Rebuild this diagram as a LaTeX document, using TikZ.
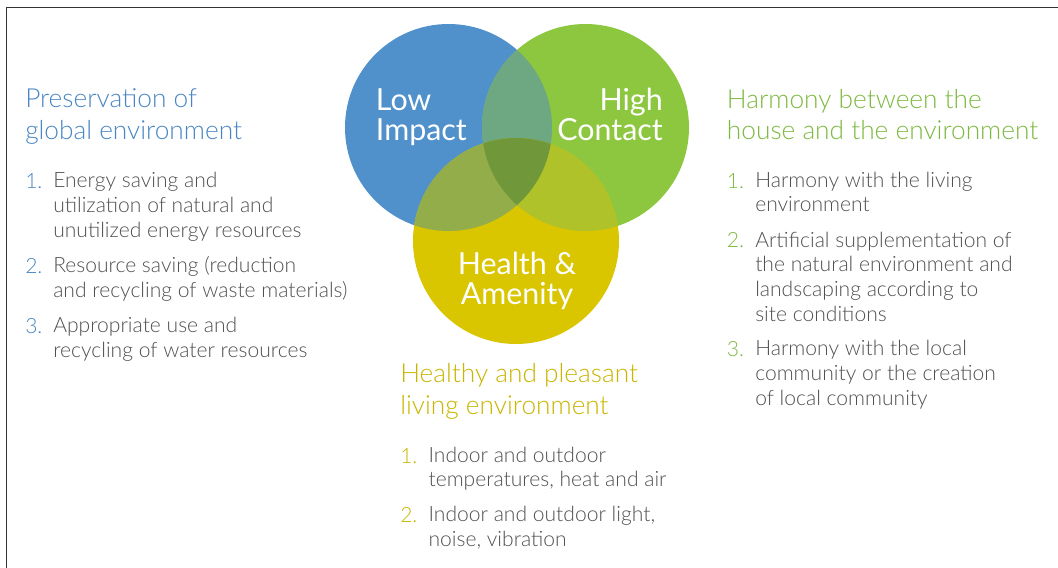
\documentclass[tikz,border=0pt]{standalone}
\usepackage{fontspec}
\setmainfont{Lato}[UprightFont=* Light, BoldFont=*]
\newfontfamily\labelfont{Lato}

\definecolor{lowblue}{HTML}{5090CB}
\definecolor{highgreen}{HTML}{8DC63F}
\definecolor{amenyellow}{HTML}{D9C500}
\definecolor{bgmix}{HTML}{6EA882}
\definecolor{bymix}{HTML}{92AD4A}
\definecolor{gymix}{HTML}{B0C22A}
\definecolor{allmix}{HTML}{70983A}
\definecolor{bluetext}{HTML}{4A86C4}
\definecolor{greentext}{HTML}{7DB940}
\definecolor{yellowtext}{HTML}{C9B500}
\definecolor{bodygray}{HTML}{505050}
\definecolor{framegray}{HTML}{333333}

\begin{document}
\begin{tikzpicture}[
    x=0.75pt, y=-0.75pt,
    heading/.style={anchor=base west, inner sep=0, align=left, font=\fontsize{19.7}{23.3}\selectfont},
    num/.style={anchor=base west, inner sep=0, font=\fontsize{15.8}{18.4}\selectfont},
    itemtxt/.style={anchor=base west, inner sep=0, align=left, text=bodygray, font=\fontsize{15.8}{18.4}\selectfont},
    circlabel/.style={inner sep=0, text=white, font=\labelfont\fontsize{22.8}{22}\selectfont}
]
\useasboundingbox (0,0) rectangle (1058,568);

% Frame
\draw[framegray, line width=1pt] (6.5,568) -- (6.5,7.5) -- (1058,7.5);

% Circles
\fill[lowblue] (448.5,127.5) circle (103.5);
\fill[highgreen] (585.5,127.5) circle (103.5);
\fill[amenyellow] (516,241) circle (103);

% Overlaps
\begin{scope}
  \clip (448.5,127.5) circle (103.5);
  \fill[bgmix] (585.5,127.5) circle (103.5);
  \fill[bymix] (516,241) circle (103);
  \clip (585.5,127.5) circle (103.5);
  \fill[allmix] (516,241) circle (103);
\end{scope}
\begin{scope}
  \clip (585.5,127.5) circle (103.5);
  \clip (516,241) circle (103);
  \fill[gymix] (-100,-100) rectangle (1200,700);
  \clip (448.5,127.5) circle (103.5);
  \fill[allmix] (-100,-100) rectangle (1200,700);
\end{scope}

% Circle labels (placed at the baseline of their last line)
\node[circlabel, anchor=base west, align=left] (low) at (375.7,140) {Low\\Impact};
\node[circlabel, anchor=base east, align=right] (high) at (663,140) {High\\Contact};
\node[circlabel, anchor=base, align=center] (health) at (517,304) {Health \&\\Amenity};

% Preservation of global environment
\node[heading, text=bluetext] (preshead) at (25,139) {Preservation of\\global environment};
\node[num, text=bluetext] (pres1n) at (25,188) {1.};
\node[itemtxt] (pres1) at (53,237) {Energy saving and\\utilization of natural and\\unutilized energy resources};
\node[num, text=bluetext] (pres2n) at (25,273) {2.};
\node[itemtxt] (pres2) at (53,297) {Resource saving (reduction\\and recycling of waste materials)};
\node[num, text=bluetext] (pres3n) at (25,333) {3.};
\node[itemtxt] (pres3) at (53,357) {Appropriate use and\\recycling of water resources};

% Harmony between the house and the environment
\node[heading, text=greentext] (harmhead) at (726.7,139.3) {Harmony between the\\house and the environment};
\node[num, text=greentext] (harm1n) at (726.7,188.3) {1.};
\node[itemtxt] (harm1) at (755,211.7) {Harmony with the living\\environment};
\node[num, text=greentext] (harm2n) at (726.7,247.3) {2.};
\node[itemtxt] (harm2) at (755,321) {Artificial supplementation of\\the natural environment and\\landscaping according to\\site conditions};
\node[num, text=greentext] (harm3n) at (726.7,356.7) {3.};
\node[itemtxt] (harm3) at (755,405) {Harmony with the local\\community or the creation\\of local community};

% Healthy and pleasant living environment
\node[heading, text=yellowtext] (healhead) at (400,414) {Healthy and pleasant\\living environment};
\node[num, text=yellowtext] (heal1n) at (400,463.3) {1.};
\node[itemtxt] (heal1) at (428.3,486.7) {Indoor and outdoor\\temperatures, heat and air};
\node[num, text=yellowtext] (heal2n) at (400,522.7) {2.};
\node[itemtxt] (heal2) at (428.3,546) {Indoor and outdoor light,\\noise, vibration};

\end{tikzpicture}
\end{document}
